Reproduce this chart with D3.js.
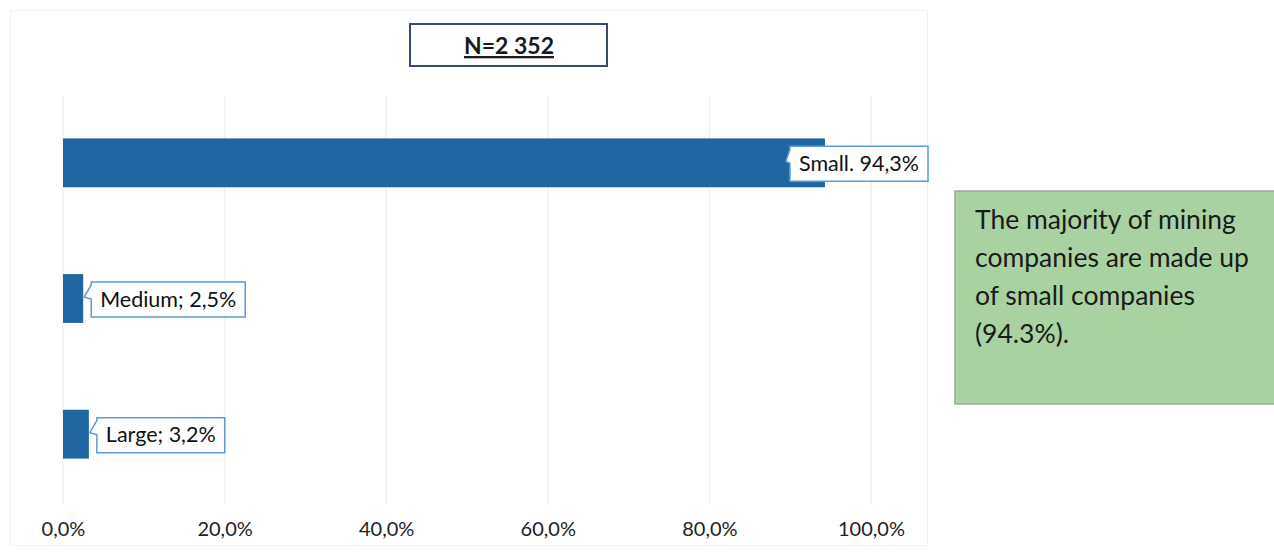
<!DOCTYPE html>
<html><head><meta charset="utf-8">
<script src="https://cdn.jsdelivr.net/npm/d3@7"></script>
<style>body{margin:0;background:#fff;} svg{display:block;}</style>
</head><body>
<svg id="chart" width="1274" height="553"></svg>
<script>
const categories = ["Small", "Medium", "Large"];
const values = [94.3, 2.5, 3.2];
const labels = ["Small. 94,3%", "Medium; 2,5%", "Large; 3,2%"];
const tickValues = [0, 20, 40, 60, 80, 100];
const tickLabels = ["0,0%", "20,0%", "40,0%", "60,0%", "80,0%", "100,0%"];
const title = "N=2 352";
const noteLines = ["The majority of mining", "companies are made up", "of small companies", "(94.3%)."];

const svg = d3.select("#chart");
const font = "Lato, 'Open Sans', sans-serif";

// outer faint chart border
svg.append("rect").attr("x", 10.5).attr("y", 10.5).attr("width", 917).attr("height", 535)
  .attr("fill", "none").attr("stroke", "#f3f3f3");

const x = d3.scaleLinear().domain([0, 100]).range([63, 871]);
const y = d3.scaleBand().domain(categories).range([95, 502]).paddingInner(0.64).paddingOuter(0.32);

// gridlines
svg.append("g").selectAll("line").data(tickValues).join("line")
  .attr("x1", d => x(d)).attr("x2", d => x(d)).attr("y1", 95).attr("y2", 505)
  .attr("stroke", "#f0f0f0").attr("stroke-width", 1.5);

// axis labels
const axis = d3.axisBottom(x).tickValues(tickValues).tickFormat((d, i) => tickLabels[i]).tickSize(0).tickPadding(0);
const ax = svg.append("g").attr("transform", "translate(0,522)").call(axis);
ax.select(".domain").remove();
ax.selectAll("text").attr("font-family", font).attr("font-size", 20).attr("fill", "#222");

// bars
svg.append("g").selectAll("rect").data(values).join("rect")
  .attr("x", x(0)).attr("y", (d, i) => y(categories[i]))
  .attr("width", d => x(d) - x(0)).attr("height", y.bandwidth())
  .attr("fill", "#1f66a2");

// data label callouts
const chartRight = 928;
const lg = svg.append("g");
values.forEach((v, i) => {
  const cy = y(categories[i]) + y.bandwidth() / 2;
  const t = lg.append("text").attr("font-family", font).attr("font-size", 21.5).attr("fill", "#111").text(labels[i]);
  const tw = t.node().getComputedTextLength();
  const bw = tw + 18, bh = 35;
  const xe = x(v);
  let bx = Math.min(xe + 8, chartRight - bw);
  const by = cy - bh / 2 + 1;
  const px = Math.min(xe + 1, bx - 4);
  const path = `M${bx},${by} H${bx + bw} V${by + bh} H${bx} V${by + 17} L${px},${by + 15} L${bx},${by + 3} Z`;
  lg.insert("path", "text").attr("d", path).attr("fill", "#fff").attr("stroke", "#5b9bd5").attr("stroke-width", 1.5);
  t.attr("x", bx + 9).attr("y", by + bh / 2 + 7);
});

// title box
svg.append("rect").attr("x", 410).attr("y", 24).attr("width", 197).attr("height", 42)
  .attr("fill", "#fff").attr("stroke", "#3a4a6b").attr("stroke-width", 2);
svg.append("text").attr("x", 509).attr("y", 54).attr("text-anchor", "middle")
  .attr("font-family", font).attr("font-size", 23).attr("font-weight", "bold")
  .attr("text-decoration", "underline").attr("fill", "#1a1a1a").text(title);

// note box
svg.append("rect").attr("x", 955).attr("y", 191).attr("width", 325).attr("height", 213)
  .attr("fill", "#a8d3a0").attr("stroke", "#9aa89a").attr("stroke-width", 1.5);
svg.append("g").selectAll("text").data(noteLines).join("text")
  .attr("x", 975).attr("y", (d, i) => 229 + i * 38)
  .attr("font-family", font).attr("font-size", 26.5).attr("fill", "#1a1a1a").text(d => d);
</script>
</body></html>
